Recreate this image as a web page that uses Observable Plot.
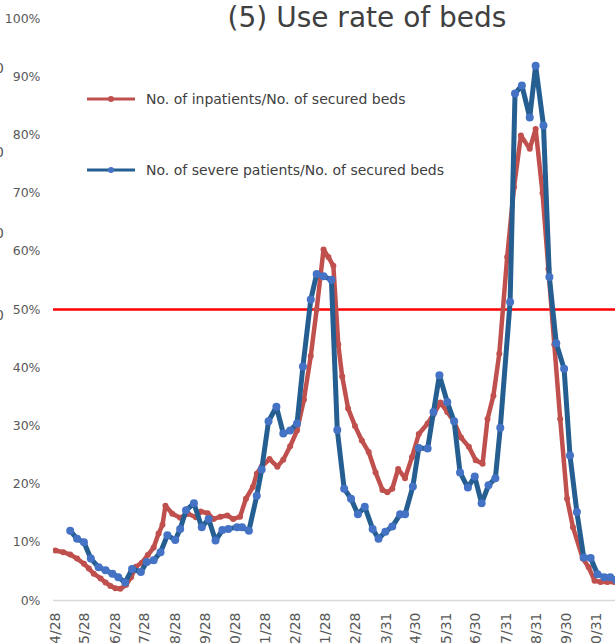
<!DOCTYPE html>
<html><head><meta charset="utf-8">
<script src="https://cdn.jsdelivr.net/npm/d3@7"></script>
<script src="https://cdn.jsdelivr.net/npm/@observablehq/plot@0.6"></script>
<style>
html,body{margin:0;padding:0;overflow:hidden;background:#fff;}
#wrap{position:relative;width:615px;height:643px;overflow:hidden;font-family:"DejaVu Sans",sans-serif;}
#title{position:absolute;left:120px;width:494px;top:2px;text-align:center;font-size:28px;line-height:32px;color:#404040;}
.leg{position:absolute;left:87px;height:16px;display:flex;align-items:center;font-size:14px;color:#404040;white-space:nowrap;}
.leg svg{margin-right:11px;}
.edge{position:absolute;left:-5px;font-size:14px;line-height:16px;color:#595959;}
</style></head>
<body><div id="wrap">
<div id="chart"></div>
<div id="title">(5) Use rate of beds</div>
<div class="leg" style="top:91px"><svg width="48" height="16"><line x1="0" y1="8" x2="48" y2="8" stroke="#c0504d" stroke-width="3"/><circle cx="24" cy="8" r="3" fill="#c0504d"/></svg><span>No. of inpatients/No. of secured beds</span></div>
<div class="leg" style="top:162px"><svg width="48" height="16"><line x1="0" y1="8" x2="48" y2="8" stroke="#255e91" stroke-width="3"/><circle cx="24" cy="8" r="3" fill="#4472c4"/></svg><span>No. of severe patients/No. of secured beds</span></div>
<div class="edge" style="top:60px">0</div>
<div class="edge" style="top:144px">0</div>
<div class="edge" style="top:225px">0</div>
<div class="edge" style="top:307px">0</div>
</div>
<script>
const redDates = ["2020-04-28","2020-05-06","2020-05-13","2020-05-20","2020-05-27","2020-06-01","2020-06-06","2020-06-13","2020-06-18","2020-06-23","2020-06-28","2020-07-03","2020-07-09","2020-07-14","2020-07-19","2020-07-25","2020-07-31","2020-08-06","2020-08-11","2020-08-15","2020-08-18","2020-08-25","2020-09-02","2020-09-10","2020-09-18","2020-09-23","2020-09-30","2020-10-06","2020-10-13","2020-10-20","2020-10-26","2020-11-02","2020-11-08","2020-11-15","2020-11-19","2020-11-24","2020-12-02","2020-12-10","2020-12-16","2020-12-23","2020-12-30","2021-01-06","2021-01-13","2021-01-19","2021-01-26","2021-01-31","2021-02-05","2021-02-10","2021-02-14","2021-02-20","2021-02-27","2021-03-06","2021-03-13","2021-03-20","2021-03-27","2021-04-01","2021-04-06","2021-04-12","2021-04-19","2021-04-26","2021-05-03","2021-05-12","2021-05-18","2021-05-25","2021-06-01","2021-06-08","2021-06-15","2021-06-23","2021-06-30","2021-07-07","2021-07-12","2021-07-18","2021-07-24","2021-08-01","2021-08-08","2021-08-15","2021-08-24","2021-08-30","2021-09-06","2021-09-12","2021-09-18","2021-09-24","2021-10-01","2021-10-07","2021-10-17","2021-10-23","2021-10-29","2021-11-04","2021-11-11","2021-11-18","2021-11-25"];
const redValues = [8.6,8.3,7.9,7.2,6.3,5.5,4.6,3.8,3.1,2.5,2.1,2.0,2.7,4.0,5.8,6.5,7.8,9.1,11.5,13.0,16.3,14.9,14.2,14.9,14.3,15.3,15.0,14.0,14.4,14.6,14.0,14.4,17.5,19.5,21.8,23.0,24.3,23.0,24.2,26.5,29.2,34.5,42,50,60.3,59.0,57.5,44,38.5,33,30,27.5,25.5,22,19,18.6,19.2,22.6,21.0,24.6,28.6,30.4,32,34,32.4,30.7,28,26.4,24.1,23.5,31.2,35.2,42.4,59,71,79.9,77.6,81,70,57,44,31.2,17.5,12.6,7.2,5.7,3.4,3.2,3.2,3.2,3.2];

const blueDates = ["2020-05-13","2020-05-20","2020-05-27","2020-06-03","2020-06-11","2020-06-18","2020-06-25","2020-07-01","2020-07-08","2020-07-15","2020-07-24","2020-07-30","2020-08-06","2020-08-13","2020-08-20","2020-08-28","2020-09-02","2020-09-08","2020-09-16","2020-09-24","2020-10-01","2020-10-08","2020-10-15","2020-10-21","2020-10-30","2020-11-04","2020-11-11","2020-11-19","2020-11-24","2020-12-01","2020-12-09","2020-12-16","2020-12-23","2020-12-30","2021-01-05","2021-01-13","2021-01-19","2021-01-26","2021-02-03","2021-02-09","2021-02-16","2021-02-23","2021-03-02","2021-03-09","2021-03-17","2021-03-23","2021-03-30","2021-04-06","2021-04-14","2021-04-19","2021-04-27","2021-05-03","2021-05-12","2021-05-18","2021-05-24","2021-06-01","2021-06-08","2021-06-14","2021-06-22","2021-06-29","2021-07-06","2021-07-13","2021-07-20","2021-07-25","2021-08-04","2021-08-09","2021-08-16","2021-08-24","2021-08-30","2021-09-07","2021-09-13","2021-09-20","2021-09-28","2021-10-04","2021-10-11","2021-10-18","2021-10-25","2021-11-01","2021-11-08","2021-11-14","2021-11-20","2021-11-26"];
const blueValues = [12.0,10.6,10.0,7.2,5.7,5.2,4.6,4.0,3.1,5.4,4.9,6.6,6.9,8.3,11.2,10.4,12.3,15.5,16.7,12.6,14.0,10.3,12.1,12.3,12.6,12.6,12.0,18.0,22.5,30.8,33.3,28.7,29.2,30.4,40.2,51.7,56.1,55.7,55.1,29.3,19.2,17.5,14.8,16.1,12.3,10.6,11.8,12.7,14.8,14.8,19.6,26.2,26.1,32.4,38.7,34.1,30.8,22.0,19.4,21.3,16.7,19.8,21.0,29.7,51.3,87.1,88.5,83.0,91.9,81.6,55.6,44.2,39.8,24.9,15.2,7.4,7.3,4.5,4.0,4.0,3.5,3.5];

const xTickDates = ["2020-04-28","2020-05-28","2020-06-28","2020-07-28","2020-08-28","2020-09-28","2020-10-28","2020-11-28","2020-12-28","2021-01-28","2021-02-28","2021-03-31","2021-04-30","2021-05-31","2021-06-30","2021-07-31","2021-08-31","2021-09-30","2021-10-31"];
const yTicks = [0,10,20,30,40,50,60,70,80,90,100];
const threshold = [50];

const red = redDates.map((d, i) => ({date: new Date(d), value: redValues[i]}));
const blue = blueDates.map((d, i) => ({date: new Date(d), value: blueValues[i]}));
const fmt = d => `${d.getUTCFullYear()}/${d.getUTCMonth() + 1}/${d.getUTCDate()}`;

const chart = Plot.plot({
  width: 615, height: 643,
  marginLeft: 53, marginRight: 0, marginTop: 18, marginBottom: 43,
  style: {fontFamily: "DejaVu Sans, sans-serif", fontSize: "12.5px", color: "#595959", background: "transparent", overflow: "hidden"},
  x: {type: "utc", domain: [new Date("2020-04-26T00:00Z"), new Date("2021-11-19T08:00Z")],
      ticks: xTickDates.map(d => new Date(d)), tickFormat: fmt, tickSize: 0, tickPadding: 12, tickRotate: -90, label: null},
  y: {domain: [0, 100], ticks: yTicks, tickFormat: d => d + "%", tickSize: 0, tickPadding: 13, label: null},
  marks: [
    Plot.ruleY([0], {stroke: "#d9d9d9", strokeWidth: 1.5}),
    Plot.ruleY(threshold, {stroke: "#ff0000", strokeWidth: 2.5}),
    Plot.line(red, {x: "date", y: "value", stroke: "#c0504d", strokeWidth: 4.5, clip: true}),
    Plot.dot(red, {x: "date", y: "value", r: 3, fill: "#c0504d", clip: true}),
    Plot.line(blue, {x: "date", y: "value", stroke: "#255e91", strokeWidth: 5, clip: true}),
    Plot.dot(blue, {x: "date", y: "value", r: 4, fill: "#4472c4", clip: true})
  ]
});
chart.querySelectorAll('[aria-label^="x-axis"] text').forEach(t => t.setAttribute("font-size", "14px"));
chart.querySelectorAll('[aria-label^="x-axis"]').forEach(g => g.setAttribute("font-size", "14px"));
document.getElementById("chart").appendChild(chart);
</script>
</body></html>
